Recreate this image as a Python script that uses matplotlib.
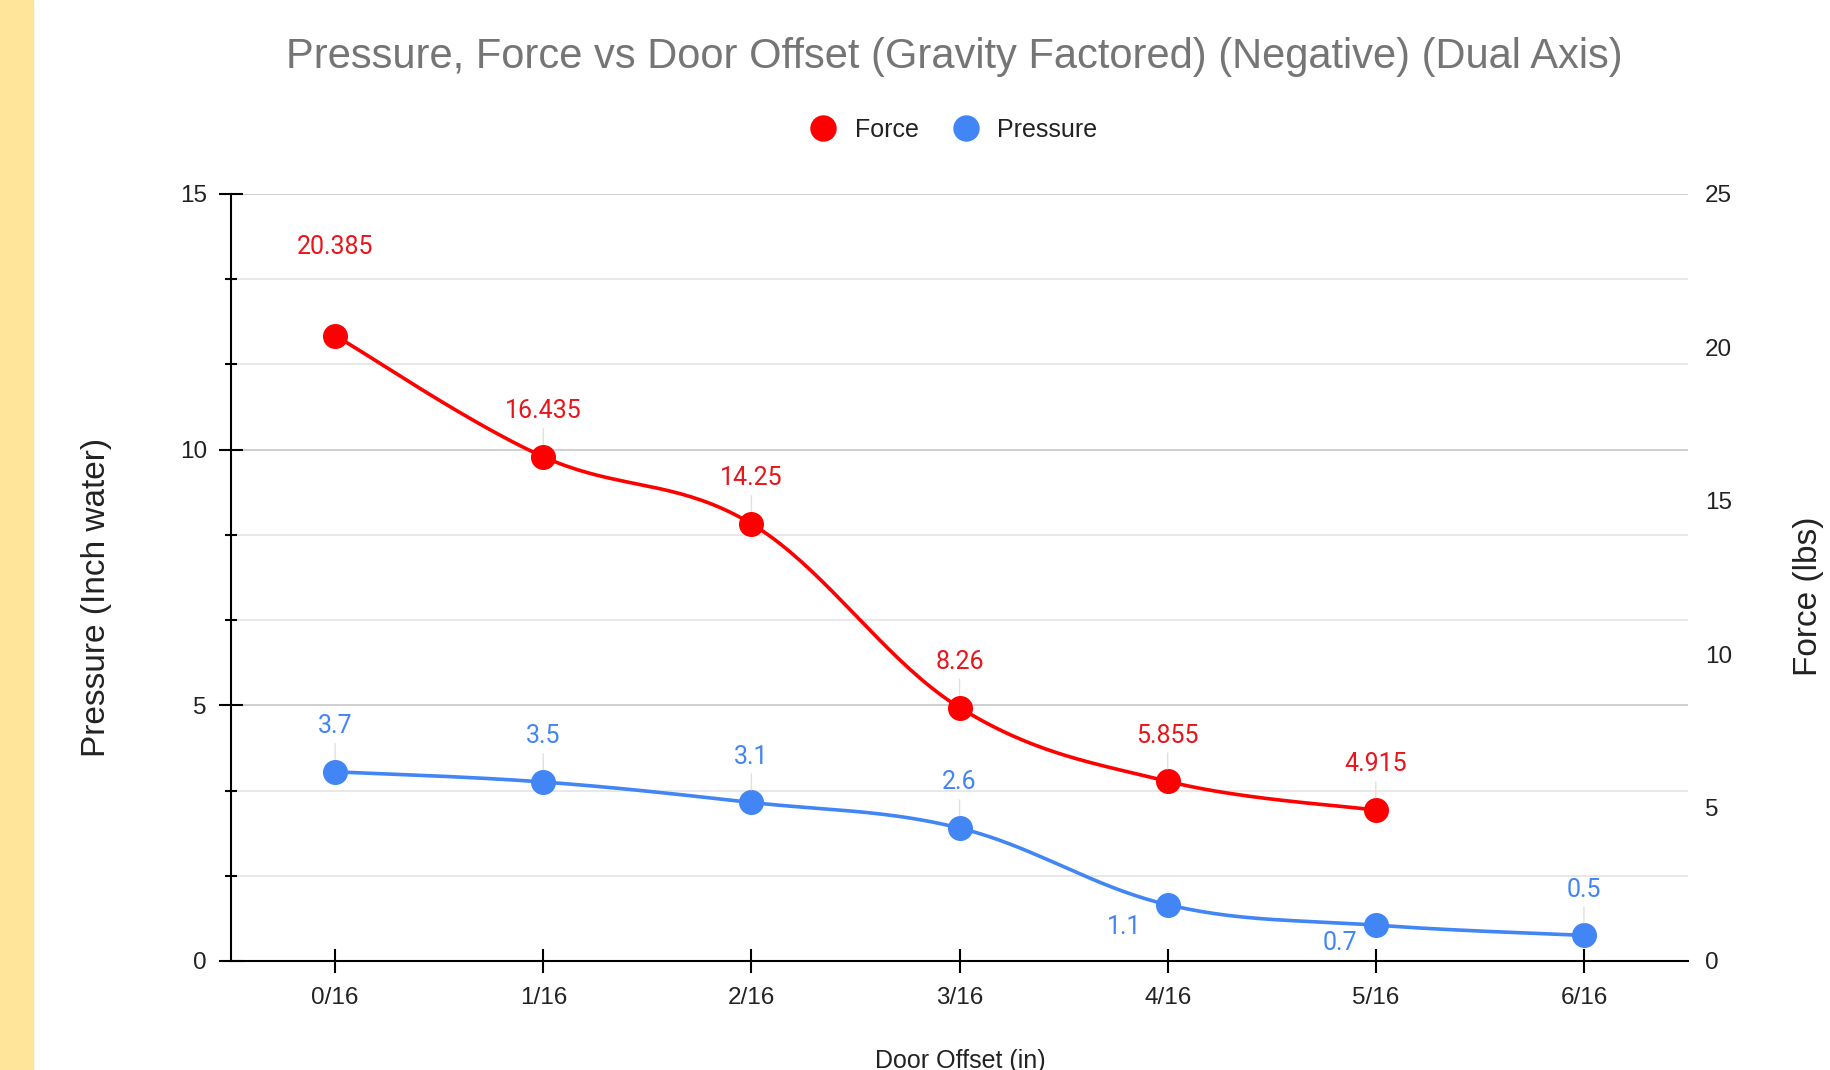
import numpy as np
import matplotlib.pyplot as plt
from matplotlib.lines import Line2D
from matplotlib.patches import Rectangle

# chart data
offsets = ["0/16", "1/16", "2/16", "3/16", "4/16", "5/16", "6/16"]
pressure = [3.7, 3.5, 3.1, 2.6, 1.1, 0.7, 0.5]
force = [20.385, 16.435, 14.25, 8.26, 5.855, 4.915]

# label offsets (points) for each data label, (dx, dy)
pressure_lbl = [(0, 33), (0, 33), (0, 33), (0, 33), (-31, -16), (-26, -13), (0, 33)]
force_lbl = [(0, 64), (0, 33), (0, 33), (0, 33), (0, 33), (0, 33)]

RED = "#ff0000"
BLUE = "#4285f4"
FONT = "Liberation Sans"
plt.rcParams["font.family"] = [FONT, "DejaVu Sans"]


def smooth(xs, ys, k=0.18, n=40):
    # catmull-rom style bezier through the points
    xs = np.asarray(xs, float)
    ys = np.asarray(ys, float)
    P = np.column_stack([xs, ys])
    out = [P[0]]
    for i in range(len(P) - 1):
        p0 = P[max(i - 1, 0)]
        p1 = P[i]
        p2 = P[i + 1]
        p3 = P[min(i + 2, len(P) - 1)]
        c1 = p1 + (p2 - p0) * k
        c2 = p2 - (p3 - p1) * k
        t = np.linspace(0, 1, n)[1:, None]
        seg = (1 - t) ** 3 * p1 + 3 * (1 - t) ** 2 * t * c1 + 3 * (1 - t) * t ** 2 * c2 + t ** 3 * p2
        out.extend(seg)
    out = np.array(out)
    return out[:, 0], out[:, 1]


fig = plt.figure(figsize=(18.31, 10.70), dpi=100)
fig.patches.append(Rectangle((0, 0), 33 / 1831, 1, transform=fig.transFigure,
                             color="#ffe599", zorder=0))

ax = fig.add_axes([0.1262, 0.1019, 0.7957, 0.7168])
ax2 = ax.twinx()

x_p = np.arange(len(pressure))
x_f = np.arange(len(force))

ax.set_xlim(-0.5, 6.5)
ax.set_ylim(0, 15)
ax2.set_ylim(0, 25)

# gridlines
minor = np.arange(0, 15.01, 5 / 3)
ax.set_yticks([0, 5, 10, 15])
ax.set_yticks(minor, minor=True)
for v in minor:
    major = abs(v / 5 - round(v / 5)) < 1e-6
    ax.axhline(v, color="#cccccc" if major else "#e6e6e6", lw=1.3, zorder=0.5)

ax.set_xticks(x_p)
ax.set_xticklabels(offsets)
ax.tick_params(axis="x", direction="inout", length=17, width=1.5, pad=10,
               labelsize=17.5, labelcolor="#222222")
ax.tick_params(axis="y", which="major", direction="inout", length=17, width=1.5,
               pad=9, labelsize=17.5, labelcolor="#222222")
ax.tick_params(axis="y", which="minor", direction="inout", length=8.5, width=1.5)

ax2.set_yticks([0, 5, 10, 15, 20, 25])
ax2.tick_params(axis="y", length=0, pad=12, labelsize=17.5, labelcolor="#222222")

for a in (ax, ax2):
    a.spines["top"].set_visible(False)
    a.spines["right"].set_visible(False)
ax2.spines["left"].set_visible(False)
ax2.spines["bottom"].set_visible(False)
ax.spines["left"].set_linewidth(1.5)
ax.spines["bottom"].set_linewidth(1.5)
ax.spines["left"].set_zorder(3)
ax.spines["bottom"].set_zorder(3)

# pressure series (left axis)
sx, sy = smooth(x_p, pressure)
ax.plot(sx, sy, color=BLUE, lw=2.6, zorder=2, solid_capstyle="round")
ax.plot(x_p, pressure, "o", color=BLUE, ms=17, zorder=2.5)
for xi, yi, (dx, dy) in zip(x_p, pressure, pressure_lbl):
    lead = dict(arrowstyle="-", color="#e0e0e0", lw=1, shrinkA=2, shrinkB=9) if dy > 0 else None
    ax.annotate(f"{yi:g}", (xi, yi), xytext=(dx, dy), textcoords="offset points",
                ha="center", va="center", fontsize=18, color=BLUE,
                family=["Roboto", "DejaVu Sans"], arrowprops=lead, zorder=4)

# force series (right axis)
fx, fy = smooth(x_f, force)
ax2.plot(fx, fy, color=RED, lw=2.6, zorder=2, solid_capstyle="round")
ax2.plot(x_f, force, "o", color=RED, ms=17, zorder=2.5)
for i, (xi, yi, (dx, dy)) in enumerate(zip(x_f, force, force_lbl)):
    lead = dict(arrowstyle="-", color="#e0e0e0", lw=1, shrinkA=2, shrinkB=9) if i > 0 else None
    ax2.annotate(f"{yi:g}", (xi, yi), xytext=(dx, dy), textcoords="offset points",
                 ha="center", va="center", fontsize=18, color="#e8151b",
                 family=["Roboto", "DejaVu Sans"], arrowprops=lead, zorder=4)

# titles
fig.text(954 / 1831, 1 - 57 / 1070,
         "Pressure, Force vs Door Offset (Gravity Factored) (Negative) (Dual Axis)",
         ha="center", va="center", fontsize=30, color="#757575")
fig.text(97 / 1831, 1 - 597 / 1070, "Pressure (Inch water)", rotation=90,
         ha="center", va="center", fontsize=24, color="#222222")
fig.text(1809 / 1831, 1 - 596 / 1070, "Force (lbs)", rotation=90,
         ha="center", va="center", fontsize=24, color="#222222")
fig.text(960 / 1831, 1 - 1061 / 1070, "Door Offset (in)",
         ha="center", va="center", fontsize=18, color="#222222")

handles = [Line2D([], [], ls="", marker="o", ms=18, color=RED, label="Force"),
           Line2D([], [], ls="", marker="o", ms=18, color=BLUE, label="Pressure")]
fig.legend(handles=handles, loc="center", bbox_to_anchor=(948 / 1831, 1 - 130 / 1070),
           ncol=2, frameon=False, fontsize=18, handletextpad=0.25, columnspacing=0.9,
           labelcolor="#222222")

fig.savefig("out.png", dpi=100)
